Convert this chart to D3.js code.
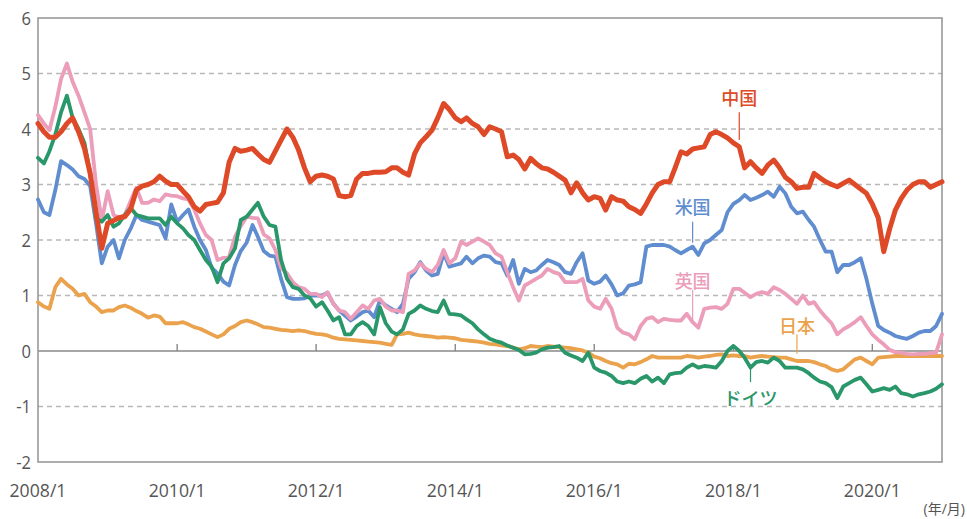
<!DOCTYPE html>
<html><head><meta charset="utf-8">
<script src="https://cdn.jsdelivr.net/npm/d3@7"></script>
<style>body{margin:0;background:#fff;overflow:hidden}</style>
</head><body>
<svg id="c" width="967" height="519"></svg>
<script>
// monthly data, 2008/1 .. 2021/1 (%)
const startYear = 2008;
const china = [
4.1,3.95,3.85,3.85,3.95,4.1,4.2,3.95,3.65,3.2,2.5,1.85,
2.3,2.35,2.4,2.42,2.55,2.9,2.97,3.0,3.05,3.15,3.06,3.0,
3.0,2.88,2.78,2.6,2.52,2.64,2.66,2.68,2.85,3.4,3.65,3.6,
3.62,3.65,3.55,3.45,3.4,3.6,3.8,4.0,3.85,3.62,3.3,3.05,
3.15,3.17,3.15,3.1,2.8,2.78,2.8,3.1,3.2,3.2,3.22,3.22,
3.23,3.3,3.3,3.22,3.17,3.55,3.75,3.86,3.98,4.2,4.46,4.35,
4.2,4.13,4.2,4.1,4.04,3.9,4.04,4.0,3.95,3.5,3.53,3.45,
3.28,3.47,3.38,3.3,3.28,3.22,3.15,3.08,2.85,3.03,2.85,2.72,
2.78,2.75,2.54,2.78,2.72,2.7,2.6,2.55,2.48,2.65,2.85,3.0,
3.05,3.05,3.3,3.59,3.55,3.64,3.66,3.68,3.9,3.95,3.9,3.84,
3.75,3.68,3.3,3.41,3.3,3.2,3.35,3.44,3.3,3.13,3.05,2.93,
2.95,2.95,3.2,3.12,3.05,3.0,2.96,3.02,3.08,3.0,2.92,2.84,
2.65,2.4,1.79,2.2,2.54,2.75,2.9,3.0,3.05,3.05,2.95,3.0,
3.05];
const usa = [
2.73,2.5,2.45,2.9,3.42,3.35,3.27,3.15,3.1,2.97,2.3,1.58,
1.88,2.0,1.67,2.0,2.2,2.45,2.36,2.33,2.3,2.27,2.03,2.64,
2.33,2.45,2.55,2.24,2.0,1.82,1.5,1.4,1.25,1.18,1.55,1.8,
1.95,2.27,2.06,1.8,1.72,1.7,1.3,0.97,0.94,0.94,0.95,1.0,
1.0,1.0,1.05,0.85,0.73,0.64,0.55,0.62,0.7,0.73,0.61,0.91,
0.82,0.76,0.7,0.85,1.3,1.42,1.6,1.45,1.36,1.39,1.76,1.52,
1.55,1.58,1.7,1.58,1.67,1.72,1.7,1.6,1.58,1.36,1.64,1.21,
1.48,1.42,1.45,1.55,1.64,1.6,1.55,1.42,1.39,1.6,1.76,1.27,
1.21,1.25,1.36,1.2,1.0,1.04,1.18,1.2,1.24,1.88,1.91,1.91,
1.91,1.88,1.82,1.76,1.82,1.88,1.73,1.94,2.0,2.09,2.18,2.5,
2.65,2.72,2.81,2.72,2.76,2.81,2.87,2.78,2.96,2.84,2.6,2.48,
2.51,2.36,2.24,2.0,1.79,1.79,1.42,1.55,1.55,1.6,1.67,1.3,
0.85,0.45,0.38,0.33,0.27,0.24,0.22,0.27,0.33,0.36,0.36,0.45,
0.67];
const uk = [
4.25,4.1,3.98,4.4,4.9,5.18,4.85,4.6,4.3,4.0,3.0,2.35,
2.88,2.45,2.4,2.45,2.7,2.94,2.67,2.67,2.73,2.7,2.82,2.8,
2.79,2.75,2.73,2.55,2.3,2.09,2.0,1.64,1.68,1.7,2.06,2.25,
2.42,2.4,2.39,2.1,2.03,1.82,1.5,1.4,1.24,1.15,1.12,1.03,
1.03,0.97,1.06,0.85,0.73,0.7,0.58,0.7,0.82,0.76,0.91,0.94,
0.8,0.73,0.73,0.7,1.39,1.45,1.58,1.48,1.42,1.55,1.82,1.58,
1.67,1.97,1.91,1.97,2.03,1.97,1.91,1.76,1.7,1.42,1.15,0.91,
1.18,1.24,1.3,1.36,1.48,1.42,1.39,1.24,1.24,1.24,1.3,0.91,
0.8,0.76,0.94,0.76,0.42,0.33,0.3,0.21,0.45,0.58,0.61,0.52,
0.58,0.56,0.55,0.55,0.67,0.52,0.42,0.76,0.78,0.79,0.76,0.85,
1.12,1.12,1.05,0.97,1.03,1.06,1.03,1.15,1.1,1.03,0.94,0.85,
1.0,0.85,0.88,0.73,0.61,0.5,0.3,0.39,0.45,0.52,0.61,0.45,
0.3,0.2,0.12,0.02,-0.02,-0.03,-0.05,-0.06,-0.05,-0.05,-0.04,-0.03,
0.3];
const germany = [
3.48,3.38,3.6,3.9,4.3,4.6,4.2,4.0,3.75,3.2,2.39,2.33,
2.45,2.24,2.3,2.45,2.58,2.45,2.42,2.39,2.39,2.39,2.27,2.42,
2.3,2.21,2.09,2.0,1.82,1.64,1.52,1.24,1.58,1.67,1.85,2.36,
2.42,2.55,2.67,2.42,2.27,2.24,1.64,1.3,1.15,1.12,1.0,0.95,
0.8,0.88,0.73,0.55,0.61,0.3,0.3,0.45,0.52,0.45,0.3,0.79,
0.5,0.35,0.3,0.39,0.67,0.73,0.82,0.76,0.72,0.7,0.91,0.67,
0.66,0.64,0.57,0.5,0.39,0.3,0.22,0.18,0.15,0.1,0.06,0.02,
-0.06,-0.05,-0.03,0.03,0.06,0.07,0.09,-0.03,-0.08,-0.12,-0.18,-0.03,
-0.3,-0.36,-0.39,-0.45,-0.55,-0.58,-0.55,-0.58,-0.5,-0.45,-0.55,-0.48,
-0.58,-0.42,-0.4,-0.39,-0.3,-0.24,-0.3,-0.27,-0.28,-0.3,-0.18,0.0,
0.09,0.0,-0.12,-0.3,-0.2,-0.18,-0.21,-0.12,-0.18,-0.3,-0.3,-0.3,
-0.33,-0.4,-0.48,-0.55,-0.58,-0.65,-0.85,-0.64,-0.58,-0.52,-0.48,-0.6,
-0.73,-0.7,-0.67,-0.7,-0.64,-0.76,-0.78,-0.82,-0.78,-0.76,-0.73,-0.68,
-0.6];
const japan = [
0.88,0.8,0.76,1.15,1.3,1.2,1.12,1.0,1.03,0.88,0.8,0.7,
0.73,0.73,0.79,0.82,0.78,0.72,0.67,0.6,0.64,0.62,0.5,0.5,
0.5,0.52,0.48,0.43,0.4,0.35,0.3,0.25,0.3,0.4,0.45,0.52,
0.55,0.52,0.48,0.43,0.42,0.4,0.38,0.37,0.36,0.37,0.36,0.33,
0.31,0.3,0.28,0.24,0.22,0.21,0.2,0.19,0.18,0.17,0.16,0.15,
0.13,0.11,0.3,0.31,0.33,0.3,0.28,0.27,0.26,0.24,0.25,0.24,
0.23,0.2,0.19,0.18,0.17,0.15,0.13,0.12,0.1,0.09,0.06,0.03,
0.05,0.09,0.08,0.07,0.09,0.08,0.07,0.06,0.05,0.03,0.01,-0.03,
-0.1,-0.13,-0.18,-0.22,-0.24,-0.3,-0.23,-0.24,-0.2,-0.15,-0.09,-0.12,
-0.12,-0.12,-0.12,-0.12,-0.09,-0.1,-0.12,-0.1,-0.09,-0.07,-0.06,-0.09,
-0.08,-0.09,-0.09,-0.12,-0.1,-0.09,-0.1,-0.11,-0.12,-0.12,-0.15,-0.18,
-0.18,-0.18,-0.2,-0.24,-0.27,-0.33,-0.36,-0.33,-0.24,-0.15,-0.12,-0.18,
-0.24,-0.12,-0.11,-0.1,-0.09,-0.09,-0.09,-0.09,-0.09,-0.09,-0.09,-0.09,
-0.09];

const seriesNames = ["日本","米国","英国","ドイツ","中国"];
const seriesColors = ["#eba24c","#5f8dcf","#eb9dba","#2a976a","#de4a27"];
const seriesValues = [japan, usa, uk, germany, china];
const yTickValues = [6,5,4,3,2,1,0,-1,-2];
const xTickLabels = ["2008/1","2010/1","2012/1","2014/1","2016/1","2018/1","2020/1"];
const xUnitLabel = "(年/月)";

// label placement
const labelSpec = [
  {name:"中国", date:"2018/2", v:4.57, l1:4.3, l2:3.8},
  {name:"米国", date:"2017/6", v:2.62, l1:2.33, l2:1.95},
  {name:"英国", date:"2017/6", v:1.28, l1:1.1, l2:0.5},
  {name:"日本", date:"2018/12", v:0.46, l1:0.3, l2:-0.05},
  {name:"ドイツ", date:"2018/4", v:-0.82, l1:-0.56, l2:-0.24}
];

const parse = s => { const [y,m] = s.split("/").map(Number); return new Date(y, m-1, 1); };
const dates = d3.range(china.length).map(i => new Date(startYear, i, 1));

const svg = d3.select("#c");
const L = 38, R = 942, T = 18, B = 462;
const x = d3.scaleTime().domain([dates[0], dates[dates.length-1]]).range([L, R]);
const y = d3.scaleLinear().domain([-2, 6]).range([B, T]);
const font = "'Open Sans','Noto Sans CJK JP',sans-serif";

// dashed grid
svg.append("g").selectAll("line").data(yTickValues.filter(v => v !== 0 && v !== 6 && v !== -2))
  .join("line").attr("x1", L).attr("x2", R).attr("y1", d => y(d)).attr("y2", d => y(d))
  .attr("stroke", "#b8b8b8").attr("stroke-width", 1.3).attr("stroke-dasharray", "5,4");

// zero line
svg.append("line").attr("x1", L).attr("x2", R).attr("y1", y(0)).attr("y2", y(0))
  .attr("stroke", "#888").attr("stroke-width", 1.6);

// ticks on zero line
svg.append("g").selectAll("line").data(xTickLabels.slice(1).map(parse))
  .join("line").attr("x1", d => x(d)).attr("x2", d => x(d)).attr("y1", y(0)).attr("y2", y(0) - 7)
  .attr("stroke", "#888").attr("stroke-width", 1.4);

// frame
svg.append("rect").attr("x", L).attr("y", T).attr("width", R - L).attr("height", B - T)
  .attr("fill", "none").attr("stroke", "#999").attr("stroke-width", 1.6);

// y axis labels
svg.append("g").selectAll("text").data(yTickValues).join("text")
  .attr("x", 0).attr("y", 0).attr("text-anchor", "end").attr("dominant-baseline", "central")
  .attr("transform", d => `translate(31,${y(d)}) scale(0.92,1)`)
  .attr("font-family", font).attr("font-size", 18).attr("fill", "#555").text(d => d);

// x axis labels
svg.append("g").selectAll("text").data(xTickLabels).join("text")
  .attr("x", 0).attr("y", 0).attr("text-anchor", "middle")
  .attr("font-family", font).attr("font-size", 19).attr("fill", "#555")
  .attr("transform", d => `translate(${x(parse(d))},497) scale(0.93,1)`)
  .text(d => d);
svg.append("text").attr("x", 965).attr("y", 514).attr("text-anchor", "end")
  .attr("font-family", font).attr("font-size", 14).attr("fill", "#555").text(xUnitLabel);

// lines
const line = d3.line().x((d, i) => x(dates[i])).y(d => y(d)).curve(d3.curveLinear);
seriesValues.forEach((vals, k) => {
  svg.append("path").datum(vals).attr("d", line).attr("fill", "none")
    .attr("stroke", seriesColors[k]).attr("stroke-width", seriesNames[k] === "中国" ? 5 : 3.8)
    .attr("stroke-linejoin", "round").attr("stroke-linecap", "round");
});

// labels with leader lines
labelSpec.forEach(s => {
  const k = seriesNames.indexOf(s.name);
  const px = x(parse(s.date));
  svg.append("line").attr("x1", px).attr("x2", px).attr("y1", y(s.l1)).attr("y2", y(s.l2))
    .attr("stroke", seriesColors[k]).attr("stroke-width", 1.2);
  svg.append("text").attr("x", px).attr("y", y(s.v)).attr("text-anchor", "middle")
    .attr("dominant-baseline", "central").attr("font-family", "'Noto Sans CJK JP',sans-serif")
    .attr("font-size", 18).attr("font-weight", 500).attr("fill", seriesColors[k]).text(s.name);
});
</script>
</body></html>
